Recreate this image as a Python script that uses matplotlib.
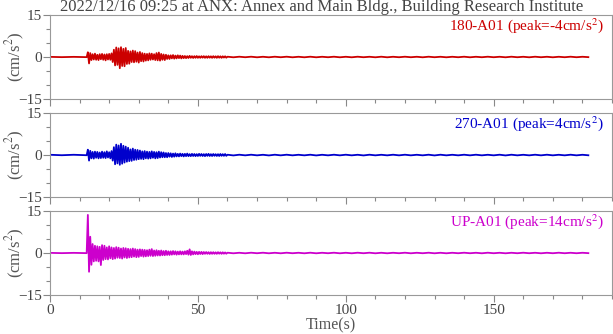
import numpy as np
import matplotlib
matplotlib.use("Agg")
import matplotlib.pyplot as plt
from matplotlib.ticker import MultipleLocator

plt.rcParams['font.family'] = ['Liberation Serif', 'DejaVu Serif']
plt.rcParams['mathtext.fontset'] = 'stix'

title = "2022/12/16 09:25 at ANX: Annex and Main Bldg., Building Research Institute"
channels = ["180-A01", "270-A01", "UP-A01"]
peaks = [-4, 4, 14]
colors = ["#cc0000", "#0000cc", "#cc00cc"]

# quiet record before the onset (s, cm/s2)
t_pre = [0.0, 4.0, 8.0, 12.4]
pre_180 = [0.05, -0.05, 0.05, -0.05]
pre_270 = [0.08, -0.08, 0.08, -0.08]
pre_up = [0.05, -0.05, 0.05, -0.05]

# strong part, samples every 0.4 s from 12.8 s
t0_active = 12.8
dt_active = 0.4
act_180 = [
    1.7, -2.3, 1.4, -1.1, 1.0, -0.9, 1.2, -1.0, 0.8, -1.1,
    1.0, -0.8, 1.1, -1.0, 0.9, -1.2, 1.0, -0.9, 1.1, -1.0,
    1.3, -1.8, 2.6, -3.0, 3.4, -2.8, 3.1, -4.0, 3.5, -3.2,
    2.9, -3.3, 3.2, -2.5, 2.2, -2.4, 2.0, -1.8, 2.3, -1.9,
    2.1, -1.7, 1.6, -2.0, 1.8, -1.5, 1.4, -1.6, 1.2, -1.3,
    1.1, -1.2, 1.3, -1.0, 1.2, -0.9, 1.0, -1.1, 1.4, -1.2,
    1.6, -1.3, 1.1, -1.0, 0.9, -1.1, 0.8, -0.7, 0.6, -0.7,
    0.6, -0.5, 0.7, -0.6, 0.5, -0.5, 0.6, -0.4, 0.5, -0.5,
    0.4, -0.4, 0.35, -0.4, 0.3, -0.35, 0.4, -0.3, 0.3, -0.35,
    0.3, -0.3, 0.35, -0.3, 0.25, -0.3, 0.3, -0.25, 0.3, -0.3,
    0.25, -0.3, 0.3, -0.25, 0.25, -0.3, 0.3, -0.25, 0.25, -0.3,
    0.3, -0.25, 0.25, -0.3, 0.25, -0.2, 0.25, -0.25,
]
act_270 = [
    1.9, -2.0, 1.5, -1.2, 1.1, -1.3, 1.2, -1.0, 1.1, -1.2,
    0.9, -1.1, 1.2, -1.0, 1.0, -1.1, 1.3, -0.9, 1.0, -1.2,
    1.4, -2.0, 2.8, -3.3, 3.7, -3.0, 3.4, -3.5, 4.0, -3.1,
    3.3, -2.7, 3.0, -2.4, 2.6, -2.2, 2.0, -2.1, 2.3, -1.8,
    1.9, -1.7, 1.8, -1.5, 1.6, -1.4, 1.3, -1.5, 1.4, -1.2,
    1.2, -1.3, 1.1, -1.2, 1.3, -1.0, 1.1, -1.2, 1.0, -1.1,
    1.2, -0.9, 1.0, -0.8, 0.9, -0.8, 0.7, -0.8, 0.7, -0.6,
    0.6, -0.7, 0.5, -0.6, 0.6, -0.5, 0.4, -0.5, 0.5, -0.4,
    0.4, -0.5, 0.4, -0.4, 0.5, -0.4, 0.3, -0.4, 0.4, -0.35,
    0.35, -0.4, 0.3, -0.35, 0.4, -0.3, 0.35, -0.35, 0.3, -0.4,
    0.35, -0.3, 0.4, -0.35, 0.3, -0.35, 0.35, -0.3, 0.3, -0.35,
    0.3, -0.35, 0.35, -0.3, 0.3, -0.3, 0.35, -0.3,
]
act_up = [
    13.6, -6.7, 5.8, -4.2, 3.2, -3.0, 2.6, -2.8, 2.4, -3.0,
    2.2, -4.3, 2.8, -2.5, 2.6, -2.2, 2.0, -2.3, 2.4, -1.9,
    2.0, -2.2, 1.8, -2.0, 2.1, -1.7, 1.9, -1.8, 1.6, -2.0,
    1.8, -1.6, 1.7, -1.8, 1.5, -1.6, 1.4, -1.5, 1.6, -1.3,
    1.4, -1.5, 1.2, -1.4, 1.3, -1.1, 1.2, -1.3, 1.1, -1.2,
    1.0, -1.1, 1.2, -1.0, 1.4, -1.1, 0.9, -1.0, 1.0, -0.9,
    0.8, -0.9, 0.9, -0.8, 0.7, -0.8, 0.8, -0.7, 0.6, -0.7,
    0.6, -0.6, 0.7, -0.5, 0.6, -0.6, 0.5, -0.5, 0.6, -0.5,
    0.5, -0.5, 0.6, -0.4, 0.8, -0.6, 1.3, -0.7, 0.6, -0.5,
    0.5, -0.4, 0.4, -0.45, 0.4, -0.35, 0.4, -0.4, 0.35, -0.3,
    0.35, -0.3, 0.3, -0.35, 0.3, -0.3, 0.3, -0.3, 0.25, -0.3,
    0.3, -0.25, 0.25, -0.3, 0.25, -0.25, 0.2, -0.25,
]

# coda, samples every 2 s from 60 s to 182 s
t0_tail = 60.0
dt_tail = 2.0
tail_180 = [
    0.1, -0.1, 0.1, -0.08, 0.1, -0.1, 0.08, -0.1, 0.1, -0.08,
    0.1, -0.1, 0.08, -0.1, 0.1, -0.1, 0.08, -0.08, 0.1, -0.1,
    0.08, -0.1, 0.1, -0.08, 0.08, -0.1, 0.1, -0.1, 0.08, -0.08,
    0.1, -0.08, 0.08, -0.1, 0.1, -0.08, 0.08, -0.1, 0.08, -0.08,
    0.1, -0.1, 0.08, -0.08, 0.1, -0.08, 0.08, -0.1, 0.1, -0.08,
    0.08, -0.1, 0.1, -0.08, 0.08, -0.1, 0.08, -0.08, 0.1, -0.08,
    0.08, -0.05,
]
tail_270 = [
    0.1, -0.15, 0.1, -0.12, 0.1, -0.12, 0.08, -0.15, 0.1, -0.12,
    0.1, -0.12, 0.08, -0.12, 0.1, -0.15, 0.08, -0.12, 0.1, -0.12,
    0.1, -0.12, 0.08, -0.15, 0.1, -0.12, 0.08, -0.12, 0.1, -0.12,
    0.1, -0.12, 0.08, -0.12, 0.1, -0.15, 0.1, -0.12, 0.08, -0.12,
    0.1, -0.12, 0.1, -0.12, 0.08, -0.12, 0.1, -0.15, 0.1, -0.12,
    0.08, -0.12, 0.1, -0.12, 0.1, -0.12, 0.08, -0.12, 0.1, -0.12,
    0.08, -0.1,
]
tail_up = [
    0.1, -0.1, 0.08, -0.1, 0.1, -0.08, 0.1, -0.1, 0.08, -0.1,
    0.1, -0.08, 0.08, -0.1, 0.1, -0.1, 0.08, -0.08, 0.1, -0.1,
    0.08, -0.1, 0.1, -0.08, 0.1, -0.1, 0.08, -0.1, 0.08, -0.08,
    0.1, -0.1, 0.08, -0.08, 0.1, -0.1, 0.08, -0.1, 0.08, -0.08,
    0.1, -0.08, 0.08, -0.1, 0.1, -0.08, 0.08, -0.1, 0.08, -0.08,
    0.1, -0.08, 0.08, -0.1, 0.08, -0.08, 0.1, -0.08, 0.08, -0.08,
    0.08, -0.05,
]

pres = [pre_180, pre_270, pre_up]
acts = [act_180, act_270, act_up]
tails = [tail_180, tail_270, tail_up]


def series(pre, act, tail):
    t_act = t0_active + dt_active * np.arange(len(act))
    t_tail = t0_tail + dt_tail * np.arange(len(tail))
    t = np.concatenate([t_pre, t_act, t_tail])
    a = np.concatenate([pre, act, tail])
    return t, a


fig = plt.figure(figsize=(6.13, 3.34), dpi=100)
W, H = 613.0, 334.0
tops = [15, 113, 211]
ax_h = 84
gray = "#555555"

for k in range(3):
    ax = fig.add_axes([50 / W, 1 - (tops[k] + ax_h) / H, 562 / W, ax_h / H])
    t, a = series(pres[k], acts[k], tails[k])
    ax.plot(t, a, color=colors[k], lw=1.3)
    ax.set_xlim(0, 190)
    ax.set_ylim(-15, 15)
    ax.set_yticks([-15, 0, 15])
    ax.yaxis.set_minor_locator(MultipleLocator(5))
    ax.set_xticks([0, 50, 100, 150])
    ax.xaxis.set_minor_locator(MultipleLocator(10))
    ax.tick_params(which='both', direction='out', colors="#888888",
                   labelcolor="#444444", labelsize=11, width=0.8)
    ax.tick_params(which='major', length=5)
    ax.tick_params(which='minor', length=3)
    ax.tick_params(axis='y', pad=1)
    ax.tick_params(axis='x', pad=1.5)
    for s in ax.spines.values():
        s.set_color("#999999")
        s.set_linewidth(0.8)
    if k < 2:
        ax.tick_params(axis='x', labelbottom=False)
    else:
        ax.set_xlabel("Time(s)", fontsize=11.5, color=gray, labelpad=0)
    ax.set_ylabel("(cm/s$^2$)", fontsize=12, color=gray, va='center')
    ax.yaxis.set_label_coords(-35 / 562, 0.5)
    ax.text(0.985, 0.88, f"{channels[k]} (peak={peaks[k]}cm/s$^2$)",
            transform=ax.transAxes, ha='right', va='center',
            color=colors[k], fontsize=11)

fig.text(60 / W, 1 - 7 / H, title, ha='left', va='center',
         fontsize=12, color="#444444")

fig.savefig("out.png", dpi=100)
